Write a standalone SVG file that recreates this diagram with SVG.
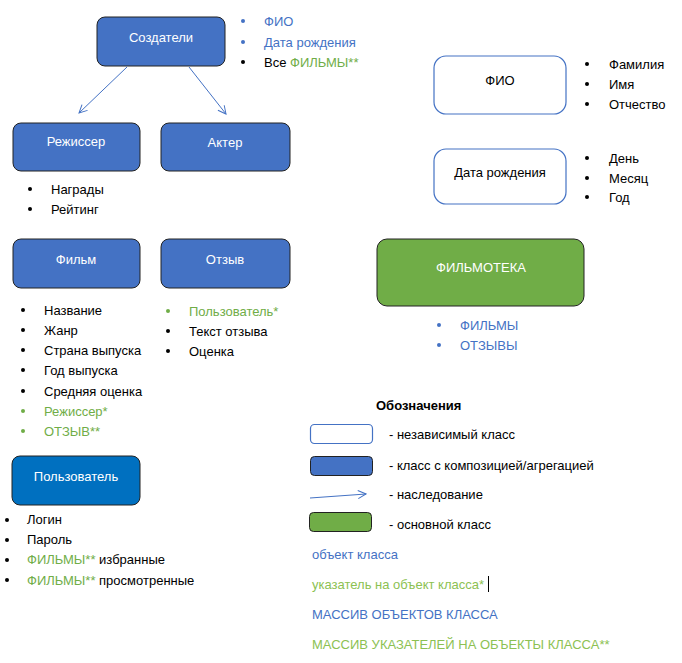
<svg xmlns="http://www.w3.org/2000/svg" width="682" height="663" viewBox="0 0 682 663">
<style>
text{font-family:"Liberation Sans",Arial,sans-serif;font-size:13px;fill:#000;dominant-baseline:central}
.w{fill:#fff;text-anchor:middle}
.k{fill:#000;text-anchor:middle}
.b{fill:#4472C4}
.g{fill:#70AD47}
.bx{fill:#4472C4;stroke:#222;stroke-width:1}
.wx{fill:#fff;stroke:#4472C4;stroke-width:1.2}
.gx{fill:#70AD47;stroke:#222;stroke-width:1}
.ux{fill:#0070C0;stroke:#222;stroke-width:1}
.d{fill:#000}
.db{fill:#4472C4}
.dg{fill:#70AD47}
.ar{stroke:#4472C4;stroke-width:1;fill:none;marker-end:url(#ah)}
</style>
<defs>
<marker id="ah" markerWidth="10" markerHeight="10" refX="9" refY="5" orient="auto" markerUnits="userSpaceOnUse">
<path d="M1,1 L9,5 L1,9" fill="none" stroke="#4472C4" stroke-width="1"/>
</marker>
</defs>
<rect width="682" height="663" fill="#fff"/>

<g id="connectors">
<line class="ar" x1="127" y1="67" x2="79" y2="113"/>
<line class="ar" x1="189" y1="67" x2="226" y2="114"/>
</g>

<g id="sozdateli">
<rect class="bx" x="97" y="17" width="128" height="49" rx="8"/>
<text class="w" x="161" y="37">Создатели</text>
<circle class="db" cx="243" cy="21" r="2"/><text class="b" x="264" y="21">ФИО</text>
<circle class="db" cx="243" cy="42" r="2"/><text class="b" x="264" y="42">Дата рождения</text>
<circle class="d" cx="243" cy="62" r="2"/><text x="264" y="62">Все <tspan class="g">ФИЛЬМЫ**</tspan></text>
</g>

<g id="rezhisser">
<rect class="bx" x="13" y="123" width="127" height="48" rx="8"/>
<text class="w" x="76" y="141">Режиссер</text>
<circle class="d" cx="30" cy="189" r="2"/><text x="51" y="189">Награды</text>
<circle class="d" cx="30" cy="209" r="2"/><text x="51" y="209">Рейтинг</text>
</g>

<g id="akter">
<rect class="bx" x="161" y="123" width="129" height="48" rx="8"/>
<text class="w" x="225" y="142">Актер</text>
</g>

<g id="fio">
<rect class="wx" x="434" y="56" width="132" height="58" rx="12"/>
<text class="k" x="500" y="80">ФИО</text>
<circle class="d" cx="587" cy="64" r="2"/><text x="609" y="64">Фамилия</text>
<circle class="d" cx="587" cy="84" r="2"/><text x="609" y="84">Имя</text>
<circle class="d" cx="587" cy="104" r="2"/><text x="609" y="104">Отчество</text>
</g>

<g id="data">
<rect class="wx" x="434" y="149" width="132" height="55" rx="12"/>
<text class="k" x="500" y="172">Дата рождения</text>
<circle class="d" cx="587" cy="158" r="2"/><text x="609" y="158">День</text>
<circle class="d" cx="587" cy="178" r="2"/><text x="609" y="178">Месяц</text>
<circle class="d" cx="587" cy="197" r="2"/><text x="609" y="197">Год</text>
</g>

<g id="film">
<rect class="bx" x="13" y="239" width="127" height="49" rx="8"/>
<text class="w" x="76" y="259">Фильм</text>
<circle class="d" cx="23" cy="310" r="2"/><text x="44" y="310">Название</text>
<circle class="d" cx="23" cy="330" r="2"/><text x="44" y="330">Жанр</text>
<circle class="d" cx="23" cy="350" r="2"/><text x="44" y="350">Страна выпуска</text>
<circle class="d" cx="23" cy="370" r="2"/><text x="44" y="370">Год выпуска</text>
<circle class="d" cx="23" cy="391" r="2"/><text x="44" y="391">Средняя оценка</text>
<circle class="dg" cx="23" cy="411" r="2"/><text class="g" x="44" y="411">Режиссер*</text>
<circle class="dg" cx="23" cy="431" r="2"/><text class="g" x="44" y="431">ОТЗЫВ**</text>
</g>

<g id="otzyv">
<rect class="bx" x="161" y="239" width="129" height="49" rx="8"/>
<text class="w" x="225" y="259">Отзыв</text>
<circle class="dg" cx="168" cy="311" r="2"/><text class="g" x="189" y="311">Пользователь*</text>
<circle class="d" cx="168" cy="331" r="2"/><text x="189" y="331">Текст отзыва</text>
<circle class="d" cx="168" cy="351" r="2"/><text x="189" y="351">Оценка</text>
</g>

<g id="filmoteka">
<rect class="gx" x="377" y="239" width="207" height="67" rx="10"/>
<text class="w" x="481" y="267">ФИЛЬМОТЕКА</text>
<circle class="db" cx="439" cy="325" r="2"/><text class="b" x="460" y="325">ФИЛЬМЫ</text>
<circle class="db" cx="439" cy="345" r="2"/><text class="b" x="460" y="345">ОТЗЫВЫ</text>
</g>

<g id="polzovatel">
<rect class="ux" x="12" y="456" width="128" height="49" rx="8"/>
<text class="w" x="76" y="476">Пользователь</text>
<circle class="d" cx="7" cy="520" r="2"/><text x="27" y="519">Логин</text>
<circle class="d" cx="7" cy="540" r="2"/><text x="27" y="539">Пароль</text>
<circle class="d" cx="7" cy="560" r="2"/><text x="27" y="559"><tspan class="g">ФИЛЬМЫ**</tspan> избранные</text>
<circle class="d" cx="7" cy="580" r="2"/><text x="27" y="580"><tspan class="g">ФИЛЬМЫ**</tspan> просмотренные</text>
</g>

<g id="legend">
<text x="376" y="405" style="font-weight:bold">Обозначения</text>
<rect class="wx" x="310.5" y="424.5" width="62" height="19" rx="4"/>
<text x="389" y="434">- независимый класс</text>
<rect class="bx" x="310.5" y="456.5" width="62" height="19" rx="4"/>
<text x="389" y="465">- класс с композицией/агрегацией</text>
<line class="ar" x1="310" y1="498" x2="366" y2="494"/>
<text x="389" y="494">- наследование</text>
<rect class="gx" x="309.5" y="512.5" width="62" height="19" rx="4"/>
<text x="389" y="524">- основной класс</text>
<text class="b" x="312" y="554">объект класса</text>
<text x="312" y="584" style="fill:#8CC152">указатель на объект класса*</text>
<line x1="488.5" y1="576" x2="488.5" y2="592" stroke="#000" stroke-width="1"/>
<text class="b" x="312" y="614">МАССИВ ОБЪЕКТОВ КЛАССА</text>
<text x="312" y="644" style="fill:#8CC152">МАССИВ УКАЗАТЕЛЕЙ НА ОБЪЕКТЫ КЛАССА**</text>
</g>
</svg>
